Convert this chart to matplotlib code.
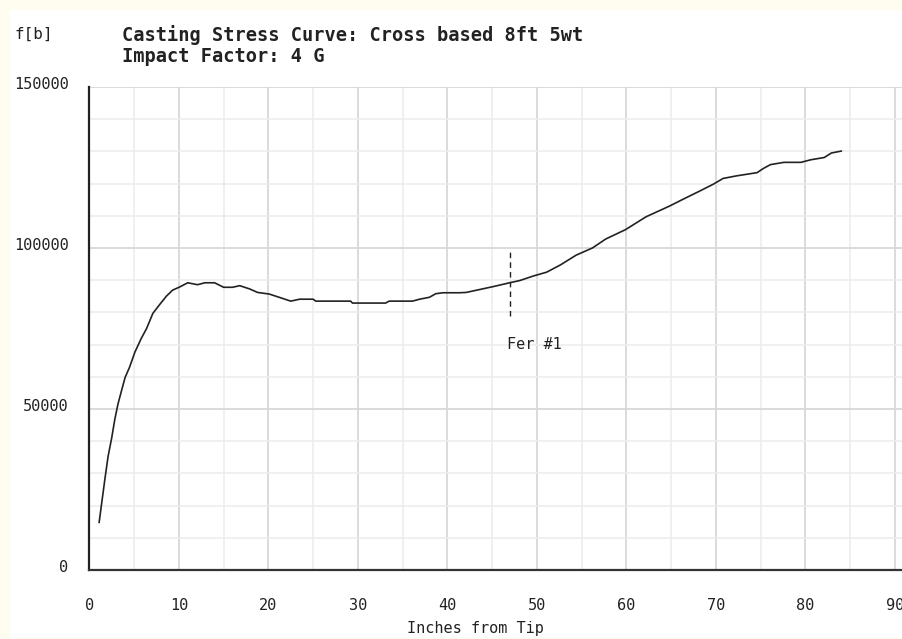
import matplotlib
matplotlib.use('Agg')
import matplotlib.pyplot as plt
from matplotlib.patches import Rectangle
from matplotlib.transforms import ScaledTranslation

# Casting stress curve
inches = [1.1, 1.4, 1.75, 2.1, 2.5, 2.85, 3.2, 3.6, 4.0, 4.5,
          5.1, 5.8, 6.4, 7.1, 7.85, 8.6, 9.3, 10.1, 11.0, 12.1,
          12.9, 14.0, 15.0, 16.0, 16.8, 17.9, 18.8, 20.1, 21.2, 22.5,
          23.5, 25.0, 25.3, 29.2, 29.4, 33.1, 33.5, 36.1, 36.9, 38.0,
          38.7, 39.5, 41.3, 42.1, 45.1, 46.8, 48.1, 49.6, 51.1, 52.6,
          54.4, 56.2, 57.7, 59.9, 62.2, 64.8, 66.3, 68.2, 69.7, 70.8,
          72.3, 74.6, 75.3, 76.1, 77.6, 79.5, 80.6, 82.1, 82.9, 84.0]
stress = [14800, 21100, 28400, 35300, 41000, 46800, 51500, 55700, 59800, 63000,
          67700, 71900, 75000, 79700, 82400, 85000, 86900, 87900, 89200, 88600,
          89200, 89200, 87800, 87800, 88300, 87300, 86200, 85700, 84700, 83500,
          84100, 84100, 83500, 83500, 82900, 82900, 83500, 83500, 84100, 84700,
          85800, 86100, 86100, 86200, 88000, 89100, 89900, 91300, 92500, 94700,
          97800, 100000, 102800, 105700, 109700, 113000, 115100, 117700, 119800, 121600,
          122400, 123400, 124700, 125900, 126600, 126600, 127400, 128100, 129500, 130100]

# ferrule marker
ferrule_x = 47
ferrule_span = [79000, 99000]
ferrule_label = 'Fer #1'
ferrule_label_pos = (46.7, 70000)

x_ticks = [0, 10, 20, 30, 40, 50, 60, 70, 80, 90]
y_ticks = [0, 50000, 100000, 150000]

mono = 'DejaVu Sans Mono'
txt_col = '#222222'

fig = plt.figure(figsize=(9.03, 6.39), dpi=100, facecolor='#fffdf0')
fig.patches.append(Rectangle((10 / 903, 1 / 639), 1, 1 - 11 / 639, transform=fig.transFigure,
                             facecolor='white', edgecolor='none', zorder=-10))

ax = fig.add_axes([89.3 / 903, 69 / 639, 813.7 / 903, 483 / 639])
ax.set_facecolor('white')
ax.set_xlim(0, 90.9)
ax.set_ylim(0, 150000)

# grid
ax.set_xticks(range(0, 91, 5), minor=True)
ax.set_yticks(range(0, 150001, 10000), minor=True)
ax.set_xticks(x_ticks)
ax.set_yticks(y_ticks)
ax.grid(which='minor', color='#ececec', lw=1.1)
ax.grid(which='major', color='#d8d8d8', lw=1.3)
ax.set_axisbelow(True)

ax.plot(inches, stress, color='#222222', lw=1.2)
ax.plot([ferrule_x, ferrule_x], ferrule_span, color='#222222', lw=1.0, dashes=(4, 3))
ax.text(ferrule_label_pos[0], ferrule_label_pos[1], ferrule_label, family=mono,
        fontsize=11, color=txt_col, va='center', ha='left')

for s in ['top', 'right']:
    ax.spines[s].set_visible(False)
ax.spines['left'].set_color('#222222')
ax.spines['left'].set_linewidth(1.6)
ax.spines['bottom'].set_color('#333333')
ax.spines['bottom'].set_linewidth(1.6)

ax.tick_params(which='both', length=0)
ax.tick_params(axis='y', pad=15)
ax.tick_params(axis='x', pad=20)
ax.set_xticklabels([str(v) for v in x_ticks], family=mono, fontsize=11, color=txt_col)
ax.set_yticklabels([str(v) for v in y_ticks], family=mono, fontsize=11, color=txt_col)
for lbl in ax.get_yticklabels():
    lbl.set_transform(lbl.get_transform() + ScaledTranslation(0, 0.04, fig.dpi_scale_trans))

ax.set_xlabel('Inches from Tip', family=mono, fontsize=11, color=txt_col)
ax.xaxis.set_label_coords(0.475, -0.105)

fig.text(15 / 903, 1 - 34 / 639, 'f[b]', family=mono, fontsize=11.5, color=txt_col, va='center')
fig.text(122 / 903, 1 - 35 / 639, 'Casting Stress Curve: Cross based 8ft 5wt', family=mono,
         fontsize=13.4, fontweight='bold', color=txt_col, va='center')
fig.text(122 / 903, 1 - 57 / 639, 'Impact Factor: 4 G', family=mono,
         fontsize=13.4, fontweight='bold', color=txt_col, va='center')

fig.savefig('out.png', dpi=100, facecolor=fig.get_facecolor())
